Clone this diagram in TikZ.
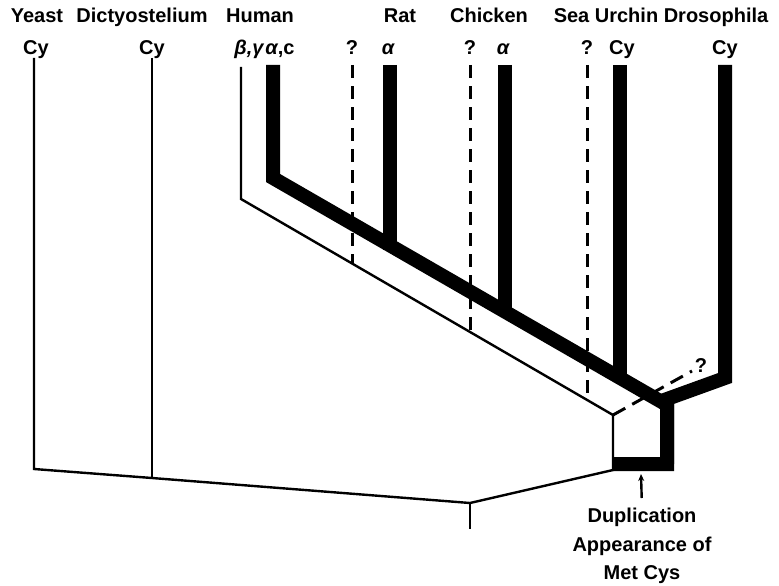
\documentclass[tikz,border=0pt]{standalone}
\usepackage{fontspec}
\setmainfont{Liberation Sans}
\usetikzlibrary{arrows.meta}
\tikzstyle{LabelTree}=[inner sep=0pt,anchor=base,font=\fontsize{20}{22}\selectfont\bfseries]
\tikzstyle{GreekTree}=[LabelTree,font=\fontsize{20}{22}\selectfont\bfseries\itshape]
\tikzstyle{BranchThin}=[line width=2.4pt,line join=miter]
\tikzstyle{BranchThick}=[line width=14pt,line join=miter]
\tikzstyle{BranchDashed}=[line width=3pt,dash pattern=on 13pt off 8pt]

\begin{document}
\begin{tikzpicture}[x=1pt,y=-1pt]
        \useasboundingbox(0,0)rectangle(779,586);
        % species names
        \node[LabelTree](yeast)at(37,23){Yeast};
        \node[LabelTree](dicty)at(142,23){Dictyostelium};
        \node[LabelTree](human)at(260,23){Human};
        \node[LabelTree](rat)at(400,23){Rat};
        \node[LabelTree](chicken)at(489,23){Chicken};
        \node[LabelTree](urchin)at(606,23){Sea Urchin};
        \node[LabelTree](droso)at(716,23){Drosophila};
        % genes
        \node[LabelTree](yeastcy)at(36,55){Cy};
        \node[LabelTree](dictycy)at(152,55){Cy};
        \node[GreekTree](humanbg)at(249,55){β,γ};
        \node[LabelTree](humanac)at(280,55){\itshape α\upshape,c};
        \node[LabelTree](ratq)at(352,55){?};
        \node[GreekTree](rata)at(388,55){α};
        \node[LabelTree](chickq)at(470,55){?};
        \node[GreekTree](chicka)at(503,55){α};
        \node[LabelTree](urchq)at(587,55){?};
        \node[LabelTree](urchcy)at(622,55){Cy};
        \node[LabelTree](drosocy)at(725,55){Cy};
        % branch points
        \coordinate(yeasttop)at(34,58);
        \coordinate(yeastbot)at(34,469);
        \coordinate(dictytop)at(152,58);
        \coordinate(dictybot)at(152,478);
        \coordinate(root)at(470,503);
        \coordinate(rootstem)at(470,529);
        \coordinate(boxbot)at(613,470);
        \coordinate(boxtop)at(613,415);
        \coordinate(bgtop)at(241,67);
        \coordinate(bgbend)at(241,199);
        \coordinate(actop)at(273,65);
        \coordinate(acbend)at(273,178);
        \coordinate(fork)at(667,405);
        \coordinate(forkbot)at(667,464);
        \coordinate(barend)at(612,464);
        \coordinate(drosotop)at(725,65);
        \coordinate(drosobend)at(725,378);
        \coordinate(ratatop)at(390,65);
        \coordinate(ratabot)at(390,250);
        \coordinate(chickatop)at(505,65);
        \coordinate(chickabot)at(505,316);
        \coordinate(urchtop)at(620,65);
        \coordinate(urchbot)at(620,382);
        \coordinate(ratqtop)at(352,65);
        \coordinate(ratqbot)at(352,263);
        \coordinate(chickqtop)at(470,65);
        \coordinate(chickqbot)at(470,332);
        \coordinate(urchqtop)at(587,65);
        \coordinate(urchqbot)at(587,399);
        \coordinate(drosoq)at(692,371);
        \coordinate(dupbar)at(641,474);
        % thin tree
        \draw[BranchThin](yeasttop)--(yeastbot)--(dictybot)--(root)--(boxbot)--(boxtop)--(bgbend)--(bgtop);
        \draw[BranchThin](dictytop)--(dictybot);
        \draw[BranchThin](root)--(rootstem);
        % thick tree
        \draw[BranchThick](actop)--(acbend)--(fork)--(forkbot)--(barend);
        \draw[BranchThick](drosotop)--(drosobend)--([yshift=6pt]fork)--(forkbot);
        \draw[BranchThick](ratatop)--(ratabot);
        \draw[BranchThick](chickatop)--(chickabot);
        \draw[BranchThick](urchtop)--(urchbot);
        % uncertain branches
        \draw[BranchDashed](ratqtop)--(ratqbot);
        \draw[BranchDashed](chickqtop)--(chickqbot);
        \draw[BranchDashed](urchqtop)--(urchqbot);
        \draw[BranchDashed,dash pattern=on 14pt off 8pt](boxtop)--(drosoq);
        \node[LabelTree](drosoqm)at(701,372){?};
        % duplication note
        \node[LabelTree,anchor=north,align=center,font=\fontsize{20}{28.5}\selectfont\bfseries](dup)at(642,508){Duplication\\Appearance of\\Met Cys};
        \draw[line width=2.4pt,-{Stealth[length=7pt,width=6pt]},shorten <=10pt](dup.north)--(dupbar);
    \end{tikzpicture}
\end{document}
